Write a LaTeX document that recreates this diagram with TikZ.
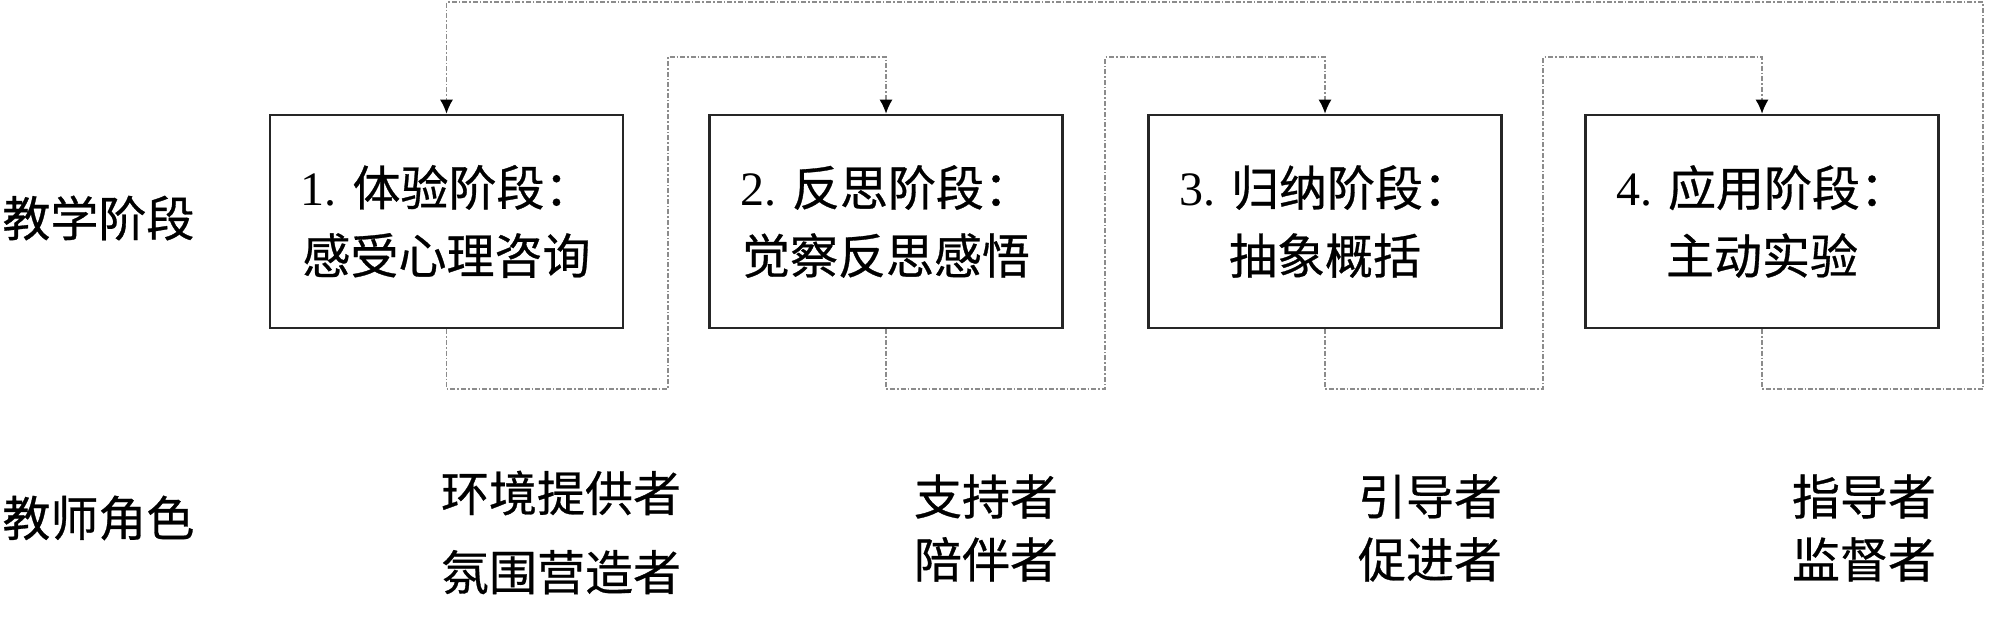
\documentclass[tikz,border=0pt]{standalone}
\usepackage{fontspec}
\setmainfont{Liberation Serif}
\newfontfamily\cjk{Noto Sans CJK SC}[FakeBold=0.6]
\usetikzlibrary{arrows.meta}
\begin{document}
\begin{tikzpicture}[x=0.5pt,y=-0.5pt,
  stagebox/.style={draw=black!85,line width=1.3pt,minimum width=176.5pt,minimum height=106.5pt,
    align=center,inner sep=0pt,font=\cjk\fontsize{24}{34}\selectfont},
  lbl/.style={inner sep=0pt,font=\cjk\fontsize{24}{30}\selectfont},
  conn/.style={draw=black!45,line width=0.8pt,dash pattern=on 2.5pt off 1pt on 0.8pt off 1pt,
    -{Latex[black,length=7pt,width=6.5pt]}}]
\useasboundingbox (0,0) rectangle (2000,616);
% stages
\node[stagebox] (b1) at (446.5,221.5) {{\rmfamily 1. }体验阶段：\\感受心理咨询};
\node[stagebox] (b2) at (886,221.5) {{\rmfamily 2. }反思阶段：\\觉察反思感悟};
\node[stagebox] (b3) at (1325,221.5) {{\rmfamily 3. }归纳阶段：\\抽象概括};
\node[stagebox] (b4) at (1762,221.5) {{\rmfamily 4. }应用阶段：\\主动实验};
% row labels
\node[lbl,anchor=west] (l1) at (2,218) {教学阶段};
\node[lbl,anchor=west] (l2) at (2,518) {教师角色};
% roles
\node[lbl,align=center,font=\cjk\fontsize{24}{39.5}\selectfont] (r1) at (561,532.5) {环境提供者\\氛围营造者};
\node[lbl,align=center,font=\cjk\fontsize{24}{31.5}\selectfont] (r2) at (986,528) {支持者\\陪伴者};
\node[lbl,align=center,font=\cjk\fontsize{24}{31.5}\selectfont] (r3) at (1430,528) {引导者\\促进者};
\node[lbl,align=center,font=\cjk\fontsize{24}{31.5}\selectfont] (r4) at (1864,528) {指导者\\监督者};
% connector coordinates
\coordinate (d1) at (668,389); \coordinate (u1) at (668,57);
\coordinate (d2) at (1105,389); \coordinate (u2) at (1105,57);
\coordinate (d3) at (1543,389); \coordinate (u3) at (1543,57);
\coordinate (d4) at (1983,389); \coordinate (u4) at (1983,2);
\draw[conn] (b1.south) |- (d1) -- (u1) -| (b2.north);
\draw[conn] (b2.south) |- (d2) -- (u2) -| (b3.north);
\draw[conn] (b3.south) |- (d3) -- (u3) -| (b4.north);
\draw[conn] (b4.south) |- (d4) -- (u4) -| (b1.north);
\end{tikzpicture}
\end{document}
